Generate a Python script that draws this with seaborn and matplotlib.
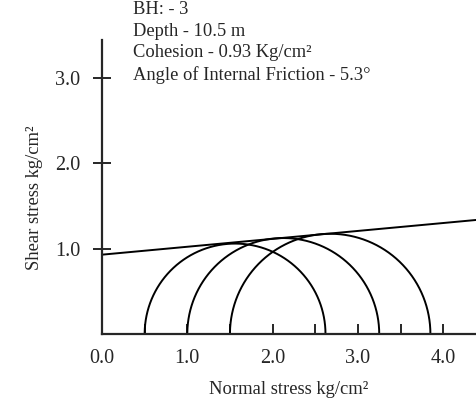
import numpy as np
import pandas as pd
import matplotlib
matplotlib.use("Agg")
import matplotlib.pyplot as plt
import seaborn as sns

# test data (kg/cm2)
sigma3 = [0.5, 1.0, 1.5]
sigma1 = [2.62, 3.25, 3.85]
cohesion = 0.93
phi_deg = 5.3

info_lines = ["BH: - 3", "Depth - 10.5 m", "Cohesion - 0.93 Kg/cm²",
              "Angle of Internal Friction - 5.3°"]
x_ticks = [0, 1, 2, 3, 4]
x_minor = [0.5, 1.5, 2.5, 3.5]
y_ticks = [1, 2, 3]

sns.set_style("ticks")
plt.rcParams["font.family"] = ["Liberation Serif", "DejaVu Serif"]

# build Mohr circles
rows = []
t = np.linspace(0, np.pi, 200)
for i, (s3, s1) in enumerate(zip(sigma3, sigma1)):
    c = (s1 + s3) / 2
    r = (s1 - s3) / 2
    for tt in t:
        rows.append({"circle": i, "sigma": c + r * np.cos(tt), "tau": r * np.sin(tt)})
df = pd.DataFrame(rows)

fig = plt.figure(figsize=(4.76, 4.04), dpi=100)
ax = fig.add_axes([102 / 476, 70 / 404, 374 / 476, 294 / 404])

sns.lineplot(data=df, x="sigma", y="tau", units="circle", estimator=None,
             sort=False, color="black", lw=1.4, ax=ax)

# failure envelope
xs = np.array([0, 4.6])
ax.plot(xs, cohesion + np.tan(np.radians(phi_deg)) * xs, color="black", lw=1.4)

ax.set_xlim(0, 374 / 85.3)
ax.set_ylim(0, 294 / 85.3)
sns.despine(ax=ax)
for s in ["left", "bottom"]:
    ax.spines[s].set_linewidth(1.6)

ax.set_xticks(x_ticks)
ax.set_xticklabels([f"{v:.1f}" for v in x_ticks])
ax.set_xticks(x_minor, minor=True)
ax.tick_params(axis="x", which="both", direction="in", length=7, width=1.4,
               labelsize=14.5, pad=11)
ax.set_yticks(y_ticks)
ax.set_yticklabels([f"{v:.1f}" for v in y_ticks])
ax.tick_params(axis="y", direction="inout", length=13, width=1.4,
               labelsize=14.5, pad=9)

ax.set_xlabel("Normal stress kg/cm²", fontsize=13.4, labelpad=9)
ax.set_ylabel("Shear stress kg/cm²", fontsize=13.4)
ax.yaxis.set_label_coords(-0.158, 0.463)

for k, line in enumerate(info_lines):
    fig.text(133 / 476, 1 - (1 + 21.7 * k) / 404, line, fontsize=13.3,
             va="top", ha="left")

fig.savefig("out.png", dpi=100)
